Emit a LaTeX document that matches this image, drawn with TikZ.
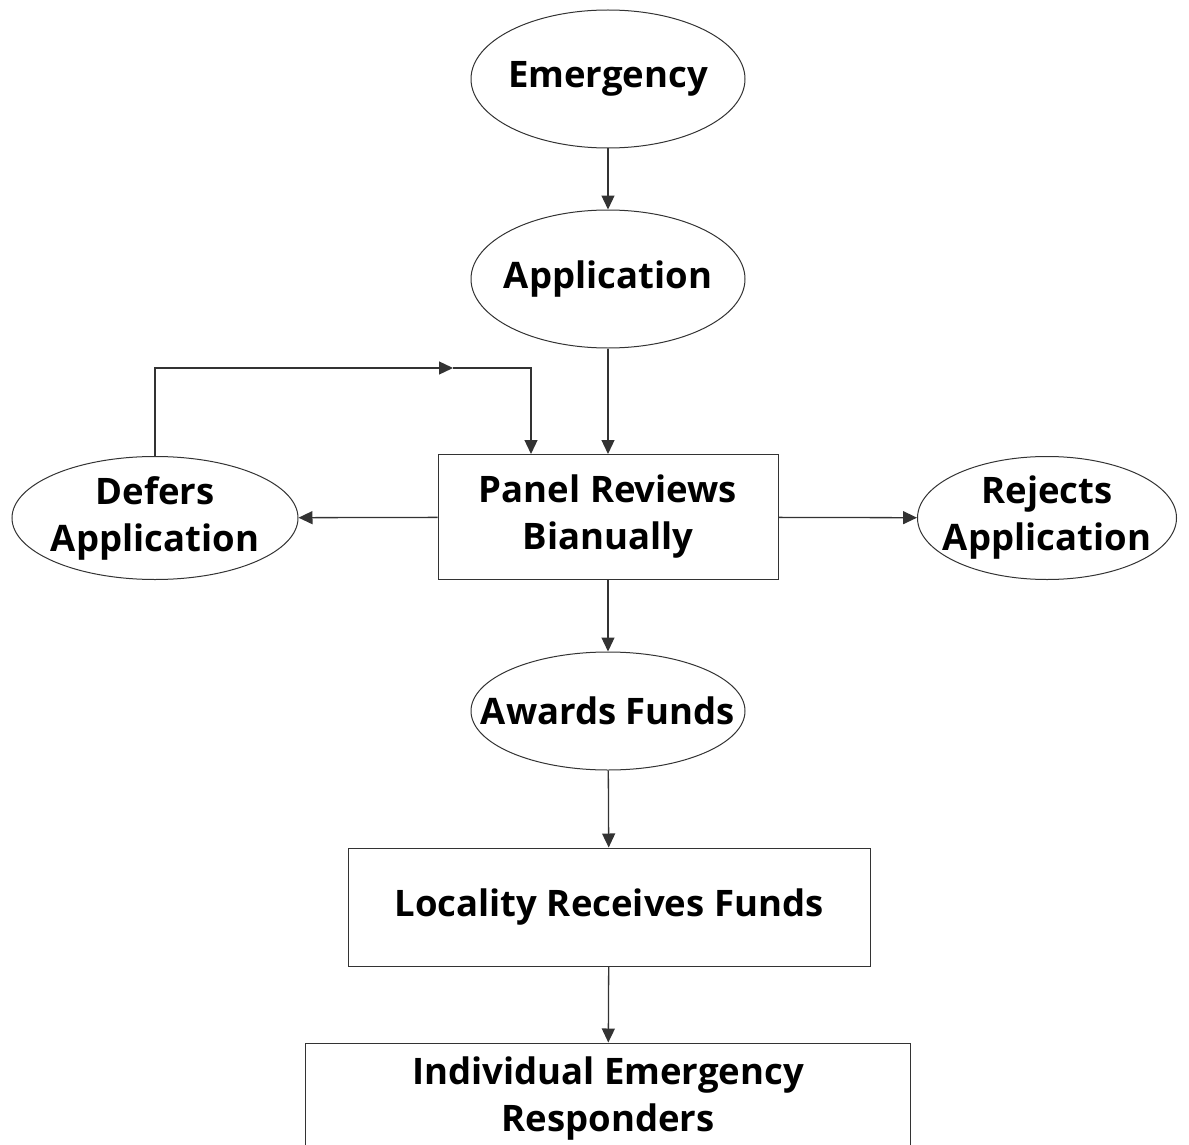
\documentclass[tikz,border=0pt]{standalone}
\usepackage{fontspec}
\setmainfont{Open Sans}[BoldFont={Open Sans Bold}]
\usetikzlibrary{arrows.meta,shapes}
\tikzstyle{oval}=[ellipse,draw=black!80,line width=1pt,inner sep=0pt,align=center,font=\bfseries\fontsize{36.5}{47}\selectfont]
\tikzstyle{box}=[rectangle,draw=black!80,line width=1pt,inner sep=0pt,align=center,font=\bfseries\fontsize{36.5}{47}\selectfont]
\tikzstyle{edge}=[draw,black!80,line width=1.3pt,-{Triangle[length=14pt,width=13pt]}]

\begin{document}
\begin{tikzpicture}[x=1pt,y=-1pt]
    \useasboundingbox (0,0) rectangle (1189,1145);
    % First we draw the nodes
    \node[oval,minimum width=274,minimum height=138] (emergency) at (608,79) {\makebox[0pt]{Emergency}};
    \node[oval,minimum width=274,minimum height=138] (application) at (608,279) {\makebox[0pt]{Application}};
    \node[box,minimum width=340,minimum height=125] (panel) at (608,517) {Panel Reviews\\Bianually};
    \node[oval,minimum width=286,minimum height=123] (defers) at (155,518) {\makebox[0pt]{Defers}\\\makebox[0pt]{Application}};
    \node[oval,minimum width=259,minimum height=123] (rejects) at (1047,518) {\makebox[0pt]{Rejects}\\\makebox[0pt]{Application}};
    \node[oval,minimum width=274,minimum height=118] (awards) at (608,711) {\makebox[0pt]{Awards Funds}};
    \node[box,minimum width=522,minimum height=118] (locality) at (609,907) {Locality Receives Funds};
    \node[box,minimum width=605,minimum height=112] (responders) at (608,1099) {Individual Emergency\\Responders};
    \coordinate (loopmid) at (453,368);
    % Connect nodes with arrows
    \foreach \source/\dest in {emergency/application, application/panel, panel/defers, panel/rejects, panel/awards, awards/locality, locality/responders}
        \path[edge] (\source) -- (\dest);
    \path[edge] (defers.north) |- (loopmid);
    \path[edge] (loopmid) -| ([xshift=-77pt]panel.north);
\end{tikzpicture}
\end{document}
